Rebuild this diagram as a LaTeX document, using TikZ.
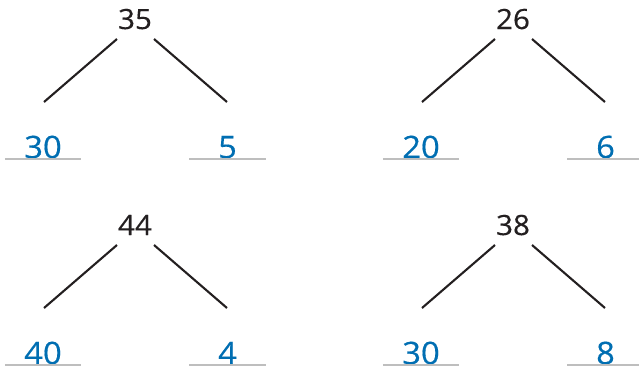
\documentclass[tikz,border=0pt]{standalone}
\usepackage{fontspec}
\setmainfont{Open Sans}[FakeStretch=1.06, FakeBold=0.4]
\usepackage{xcolor}
\usepackage{tikz}
\definecolor{wholeblack}{RGB}{35,31,32}
\definecolor{partblue}{RGB}{0,110,178}
\definecolor{linegray}{RGB}{190,190,190}

\tikzset{
  whole/.style={anchor=base, inner sep=0pt, text=wholeblack,
    font=\fontsize{28}{32}\selectfont},
  part/.style={anchor=base, inner xsep=0pt, inner ysep=1bp, text depth=0pt,
    minimum width=76bp, text=partblue, font=\fontsize{31}{35}\selectfont},
  bond/.style={wholeblack, line width=2.1bp},
  answerline/.style={linegray, line width=1.8bp},
}

\begin{document}
\begin{tikzpicture}[x=1bp, y=-1bp]
      \useasboundingbox (0,0) rectangle (639,369);
      \clip (0,0) rectangle (639,369);
      \foreach \dx/\dy/\total/\tens/\ones/\nm in
          {0/0/35/30/5/a, 378/0/26/20/6/b, 0/206/44/40/4/c, 378/206/38/30/8/d} {
        \begin{scope}[shift={(\dx,\dy)}]
          \node[whole] (\nm-top)   at (135,29)    {\total};
          \node[part]  (\nm-left)  at (43,158)    {\tens};
          \node[part]  (\nm-right) at (227.5,158) {\ones};
          % bonds from the whole to its parts
          \draw[bond] ([shift={(-18,10)}]\nm-top.base) -- ([shift={(1,-56)}]\nm-left.base);
          \draw[bond] ([shift={(19,10)}]\nm-top.base) -- ([shift={(-0.5,-56)}]\nm-right.base);
          % write-on lines
          \draw[answerline] (\nm-left.south west) -- (\nm-left.south east);
          \draw[answerline] (\nm-right.south west) -- (\nm-right.south east);
        \end{scope}
      }
    \end{tikzpicture}
\end{document}
